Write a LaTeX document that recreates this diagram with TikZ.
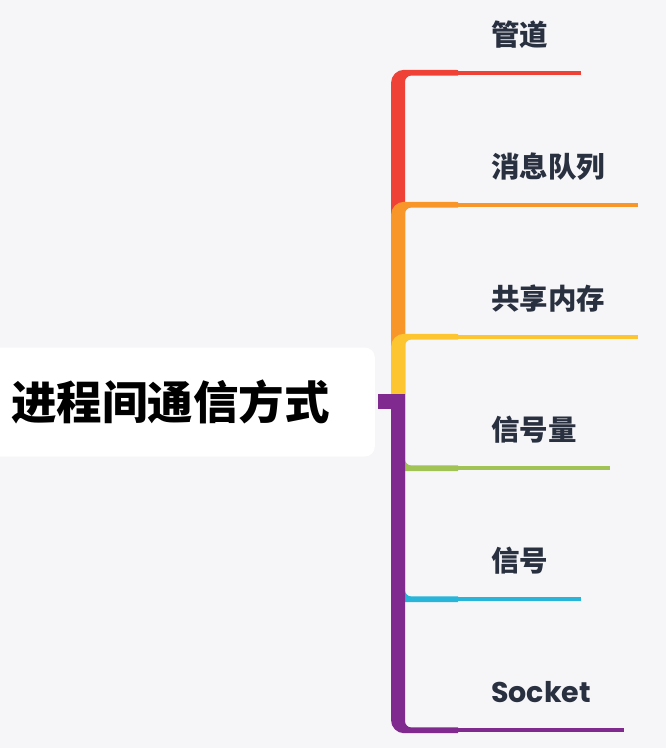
\documentclass[tikz,border=0pt]{standalone}
\usepackage{fontspec}
\newfontfamily\cjk{Noto Sans CJK SC}
\newfontfamily\latin{Poppins}
\usetikzlibrary{calc}

\definecolor{bgGray}{HTML}{F6F6F9}
\definecolor{txtDark}{HTML}{29303F}
\definecolor{cRed}{HTML}{EF4136}
\definecolor{cOrange}{HTML}{F8962A}
\definecolor{cYellow}{HTML}{FDC530}
\definecolor{cGreen}{HTML}{A1C255}
\definecolor{cCyan}{HTML}{27B5DA}
\definecolor{cPurple}{HTML}{80298F}

\tikzset{
  rootbox/.style={fill=white, rounded corners=10pt, anchor=east, minimum height=109pt,
    inner xsep=45pt, text=black, font={\cjk\bfseries\fontsize{45.5pt}{48pt}\selectfont}},
  topic/.style={anchor=south west, inner xsep=33pt, inner ysep=27pt, text depth=0pt,
    text=txtDark, font={\cjk\bfseries\fontsize{28.5pt}{30pt}\selectfont}},
}

\begin{document}
\begin{tikzpicture}[x=1pt, y=-1pt]
		\useasboundingbox (0,0) rectangle (666,748);
		\fill[bgGray] (0,0) rectangle (666,748);
		
		\node[rootbox] (root) at (375,402) {进程间通信方式};
		\coordinate (hub) at (398,394);
		
		% Topics
		\node[topic] (pipe) at (458,73) {管道};
		\node[topic] (queue) at (458,205) {消息队列};
		\node[topic] (shm) at (458,337) {共享内存};
		\node[topic] (sem) at (458,468) {信号量};
		\node[topic] (sig) at (458,599) {信号};
		\node[topic] (sock) at (458,730) {\latin Socket};
		
		% Branches
		\foreach \lab/\col/\d in {pipe/cRed/-1, queue/cOrange/-1, shm/cYellow/-1,
		                          sem/cGreen/1, sig/cCyan/1, sock/cPurple/1} {
		  \path (hub |- \lab.south west) coordinate (k);
		  \fill[\col] ($(hub)+(-7,0)$) -- ($(k)+(-7,-10*\d)$)
		    .. controls ($(k)+(-7,-2.8*\d)$) and ($(k)+(-1.2,3.2*\d)$) .. ($(k)+(6,3.2*\d)$)
		    -- ($(\lab.south west)+(0,3*\d)$) -- ($(\lab.south west)+(0,-2.6*\d)$)
		    -- ($(k)+(13,-2.6*\d)$)
		    .. controls ($(k)+(9.7,-2.6*\d)$) and ($(k)+(7,-5.5*\d)$) .. ($(k)+(7,-9*\d)$)
		    -- ($(hub)+(7,0)$) -- cycle;
		  \draw[\col, line width=3.2pt] (\lab.south west) -- (\lab.south east);
		}
		
		% Root stub
		\fill[cPurple] ($(root.east)+(3,-8)$) rectangle ($(hub)+(0,15)$);
	  \end{tikzpicture}
\end{document}
